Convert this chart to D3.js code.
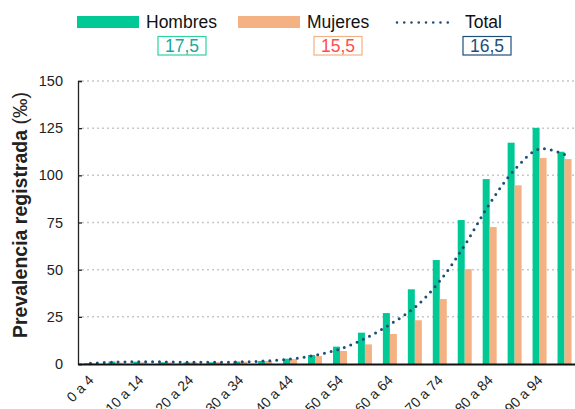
<!DOCTYPE html>
<html lang="es">
<head>
    <meta charset="utf-8">
    <title>Prevalencia registrada por edad</title>
    <script src="https://d3js.org/d3.v7.js"></script>
    <style>
        body { margin: 0; background: #fff; }
        text { font-family: "Liberation Sans", Arial, sans-serif; fill: #222; }
        .grid line { stroke: #c8c8c8; stroke-width: 1.5; stroke-dasharray: 2 3; }
    </style>
</head>
<body>
<svg width="575" height="409"></svg>
<script type="text/javascript">
    // Grupos de edad
    let ageGroups = ["0 a 4", "5 a 9", "10 a 14", "15 a 19", "20 a 24", "25 a 29", "30 a 34",
        "35 a 39", "40 a 44", "45 a 49", "50 a 54", "55 a 59", "60 a 64", "65 a 69",
        "70 a 74", "75 a 79", "80 a 84", "85 a 89", "90 a 94", "95 y más"];

    let hombres = [0.4, 1.3, 1.2, 0.9, 0.8, 0.9, 1.3, 1.6, 2.8, 4.8, 9.2, 16.6, 27.0, 39.6,
        55.1, 76.3, 98.0, 117.3, 125.2, 112.5];
    let mujeres = [0.3, 0.7, 0.9, 0.8, 0.9, 1.0, 1.2, 1.6, 2.6, 4.2, 6.9, 10.4, 15.9, 23.2,
        34.4, 50.3, 72.6, 94.7, 109.2, 108.6];
    let total = [0.4, 1.0, 1.2, 1.1, 0.9, 0.9, 1.1, 1.6, 2.6, 4.6, 8.0, 13.5, 21.0, 30.0,
        44.0, 63.0, 85.0, 103.0, 114.0, 111.0];

    let yTicks = [0, 25, 50, 75, 100, 125, 150];

    let seriesNames = ["Hombres", "Mujeres", "Total"];
    let seriesTotals = ["17,5", "15,5", "16,5"];

    let colorH = "#00c995";
    let colorM = "#f4b183";
    let colorT = "#1f4e79";

    let svg = d3.select("svg");

    let x = d3.scaleBand()
        .domain(ageGroups)
        .range([78, 577]);

    let xInner = d3.scaleBand()
        .domain(["h", "m"])
        .range([0, 14]);

    let y = d3.scaleLinear()
        .domain([0, 150])
        .range([364, 81]);

    // gridlines
    svg.append("g")
        .attr("class", "grid")
        .selectAll("line")
        .data(yTicks.filter(d => d > 0))
        .join("line")
        .attr("x1", 82)
        .attr("x2", 577)
        .attr("y1", d => y(d))
        .attr("y2", d => y(d));

    // bars
    let offset = (x.bandwidth() - 14) / 2;
    let rows = ageGroups.map((g, i) => ({group: g, h: hombres[i], m: mujeres[i]}));

    svg.append("g").selectAll("rect")
        .data(rows)
        .join("rect")
        .attr("x", d => x(d.group) + offset + xInner("h"))
        .attr("y", d => y(d.h))
        .attr("width", xInner.bandwidth())
        .attr("height", d => y(0) - y(d.h))
        .style("fill", colorH);

    svg.append("g").selectAll("rect")
        .data(rows)
        .join("rect")
        .attr("x", d => x(d.group) + offset + xInner("m"))
        .attr("y", d => y(d.m))
        .attr("width", xInner.bandwidth())
        .attr("height", d => y(0) - y(d.m))
        .style("fill", colorM);

    // total line (smoothed, dotted)
    let line = d3.line()
        .x((d, i) => x(ageGroups[i]) + x.bandwidth() / 2)
        .y(d => y(d))
        .curve(d3.curveCatmullRom);

    svg.append("path")
        .datum(total)
        .attr("d", line)
        .style("fill", "none")
        .style("stroke", colorT)
        .style("stroke-width", 3)
        .style("stroke-linecap", "round")
        .style("stroke-dasharray", "0 6.9");

    // y axis
    let yAxis = svg.append("g")
        .attr("transform", "translate(78,0)")
        .call(d3.axisLeft(y).tickValues(yTicks).tickSize(-4).tickPadding(15));
    yAxis.select(".domain").style("stroke", "#222").style("stroke-width", 1.3);
    yAxis.selectAll(".tick line").style("stroke", "#222").style("stroke-width", 1.3);
    yAxis.selectAll("text")
        .style("font-size", "14.5px")
        .style("font-family", "'Liberation Sans', Arial, sans-serif")
        .style("fill", "#222");

    // x axis
    let xAxis = svg.append("g")
        .attr("transform", "translate(0,364)")
        .call(d3.axisBottom(x).tickSize(0).tickFormat((d, i) => i % 2 === 0 ? d : ""));
    xAxis.select(".domain").style("stroke", "#111").style("stroke-width", 1.8);
    xAxis.selectAll("text")
        .style("font-size", "14px")
        .style("font-family", "'Liberation Sans', Arial, sans-serif")
        .style("fill", "#222")
        .attr("text-anchor", "end")
        .attr("dy", 0)
        .attr("y", 0)
        .attr("transform", "translate(4,17) rotate(-45)");

    // y axis title
    let title = svg.append("text")
        .attr("transform", "translate(27,215) rotate(-90)")
        .attr("text-anchor", "middle")
        .style("font-size", "19.5px");
    title.append("tspan").style("font-weight", "bold").text("Prevalencia registrada ");
    title.append("tspan").text("(‰)");

    // legend
    let legend = svg.append("g");
    legend.append("rect").attr("x", 77).attr("y", 16).attr("width", 62).attr("height", 12).style("fill", colorH);
    legend.append("rect").attr("x", 238).attr("y", 16).attr("width", 62).attr("height", 12).style("fill", colorM);
    legend.append("line")
        .attr("x1", 397).attr("x2", 455).attr("y1", 22.5).attr("y2", 22.5)
        .style("stroke", colorT).style("stroke-width", 2.6)
        .style("stroke-linecap", "round").style("stroke-dasharray", "0 7.25");

    let labelX = [146, 307, 465];
    legend.selectAll("text.name")
        .data(seriesNames)
        .join("text")
        .attr("class", "name")
        .attr("x", (d, i) => labelX[i])
        .attr("y", 28)
        .style("font-size", "17.5px")
        .style("fill", "#111")
        .text(d => d);

    let boxX = [158, 314, 463];
    let boxStroke = ["#2ed3a0", "#f4b183", colorT];
    let boxText = ["#17a89e", "#ff4d4d", colorT];
    legend.selectAll("rect.box")
        .data(seriesTotals)
        .join("rect")
        .attr("class", "box")
        .attr("x", (d, i) => boxX[i])
        .attr("y", 36.5)
        .attr("width", 48)
        .attr("height", 18.5)
        .style("fill", "#fff")
        .style("stroke", (d, i) => boxStroke[i])
        .style("stroke-width", 1.2);
    legend.selectAll("text.value")
        .data(seriesTotals)
        .join("text")
        .attr("class", "value")
        .attr("x", (d, i) => boxX[i] + 24)
        .attr("y", 52)
        .attr("text-anchor", "middle")
        .style("font-size", "17.5px")
        .style("fill", (d, i) => boxText[i])
        .text(d => d);
</script>
</body>
</html>
